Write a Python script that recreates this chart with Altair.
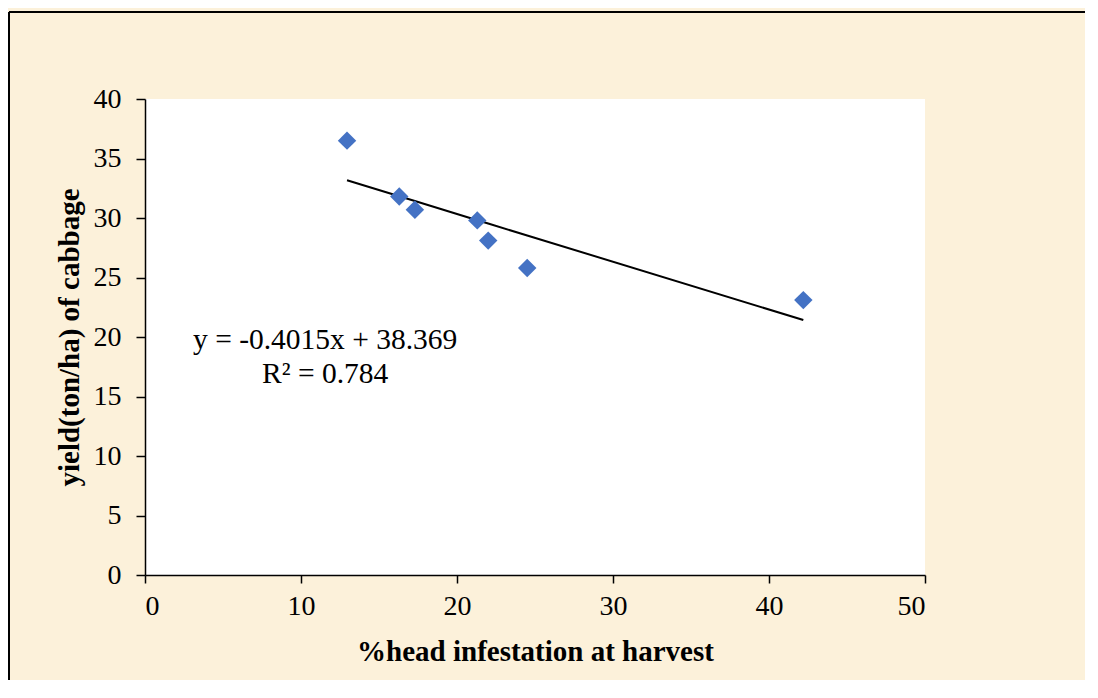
import altair as alt
import pandas as pd

# Data
infestation = [12.95, 16.3, 17.3, 21.3, 22.0, 24.5, 42.2]
yield_t = [36.5, 31.8, 30.7, 29.8, 28.1, 25.8, 23.1]
slope = -0.4015
intercept = 38.369
eq_lines = ["y = -0.4015x + 38.369", "R² = 0.784"]
eq_x = [11.55, 11.55]
eq_y = [19.75, 16.9]

df = pd.DataFrame({"x": infestation, "y": yield_t})
ann = pd.DataFrame({"label": eq_lines, "x": eq_x, "y": eq_y})

FONT = "Liberation Serif"

xscale = alt.Scale(domain=[0, 50], nice=False)
yscale = alt.Scale(domain=[0, 40], nice=False)

xaxis = alt.Axis(values=[0, 10, 20, 30, 40, 50], grid=False, domainColor="black",
                 domainWidth=1.5, tickColor="black", tickWidth=1.5, tickSize=8,
                 labelFont=FONT, labelFontSize=28, labelColor="black", labelPadding=9,
                 title="%head infestation at harvest", titleFont=FONT, titleFontSize=29,
                 titleFontWeight="bold", titleColor="black", titlePadding=17)
yaxis = alt.Axis(values=list(range(0, 41, 5)), grid=False, domainColor="black",
                 domainWidth=1.5, tickColor="black", tickWidth=1.5, tickSize=9,
                 labelFont=FONT, labelFontSize=28, labelColor="black", labelPadding=15,
                 title="yield(ton/ha) of cabbage", titleFont=FONT, titleFontSize=29,
                 titleFontWeight="bold", titleColor="black", titlePadding=9)

base = alt.Chart(df)

points = base.mark_point(shape="diamond", filled=True, size=340, color="#4472C4",
                         opacity=1).encode(
    x=alt.X("x:Q", scale=xscale, axis=xaxis),
    y=alt.Y("y:Q", scale=yscale, axis=yaxis),
)

trend = base.transform_calculate(
    fit=f"{slope} * datum.x + {intercept}"
).mark_line(color="black", strokeWidth=2).encode(
    x=alt.X("x:Q", scale=xscale),
    y=alt.Y("fit:Q", scale=yscale),
)

text = alt.Chart(ann).mark_text(font=FONT, fontSize=29.5, color="black",
                                align="center", baseline="middle").encode(
    x=alt.X("x:Q", scale=xscale),
    y=alt.Y("y:Q", scale=yscale),
    text="label:N",
)

# decorative outer frame (top and left edges visible in the reference)
frame_top = alt.Chart(df).mark_rule(color="black", strokeWidth=2).encode(
    x=alt.value(-136), x2=alt.value(1000), y=alt.value(-87))
frame_left = alt.Chart(df).mark_rule(color="black", strokeWidth=2).encode(
    x=alt.value(-136), y=alt.value(-87), y2=alt.value(700))

chart = alt.layer(trend, points, text, frame_top, frame_left).properties(
    width=780, height=476,
    background="#FCF1DA",
    padding={"left": 137, "top": 91, "right": 160, "bottom": 105},
    autosize=alt.AutoSizeParams(type="none"),
).configure_view(fill="white", stroke=None)

chart.save("out.html", embed_options={"renderer": "svg", "actions": False})
